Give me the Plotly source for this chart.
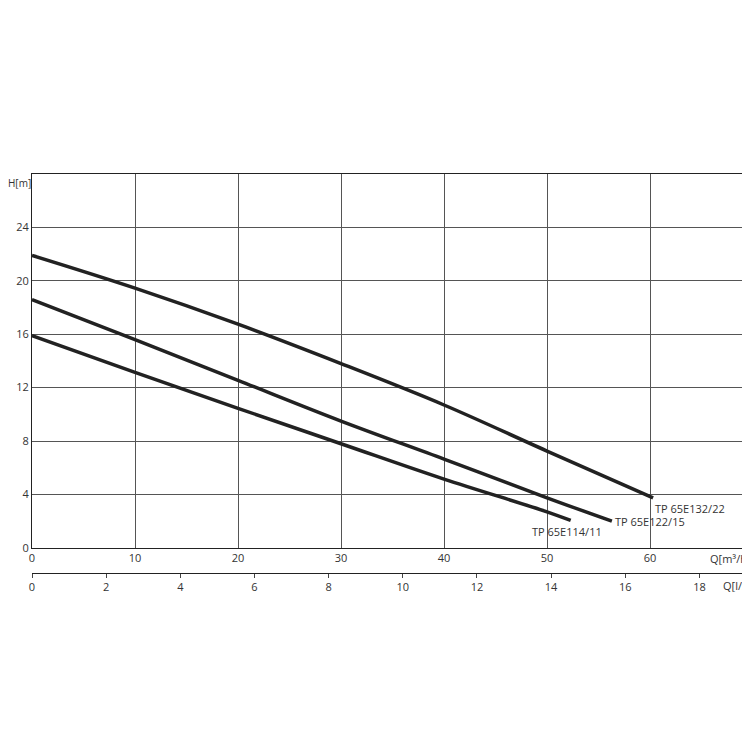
import plotly.graph_objects as go

q = [0, 10, 20, 30, 40, 50]
h132 = [21.9, 19.45, 16.75, 13.8, 10.7, 7.25]
q132_end, h132_end = 60.3, 3.75
h122 = [18.6, 15.6, 12.55, 9.5, 6.65, 3.75]
q122_end, h122_end = 56.3, 2.0
h114 = [15.9, 13.15, 10.45, 7.8, 5.15, 2.7]
q114_end, h114_end = 52.3, 2.05
names = ["TP 65E132/22", "TP 65E122/15", "TP 65E114/11"]

fig = go.Figure()
series = [(h132, q132_end, h132_end), (h122, q122_end, h122_end), (h114, q114_end, h114_end)]
for (hs, qe, he), n in zip(series, names):
    fig.add_trace(go.Scatter(x=q + [qe], y=hs + [he], mode="lines", line=dict(color="#222", width=3.5, shape="spline"), name=n, showlegend=False))
fig.add_trace(go.Scatter(x=[0, 70 / 3.6], y=[None, None], xaxis="x2", showlegend=False))

font = dict(family="Open Sans", size=11, color="#333")
fig.add_annotation(x=q132_end, y=h132_end, text=names[0], showarrow=False, xanchor="left", yanchor="top", yshift=-1, font=font)
fig.add_annotation(x=q122_end, y=h122_end, text=names[1], showarrow=False, xanchor="left", yanchor="middle", xshift=1, font=font)
fig.add_annotation(x=q114_end, y=h114_end, text=names[2], showarrow=False, xanchor="center", yanchor="top", xshift=-4, yshift=-2, font=font)
fig.add_annotation(x=1, xref="paper", y=0, yref="y", text="Q[m³/h]", showarrow=False, xanchor="right", yanchor="top", yshift=-1, font=font)
fig.add_annotation(x=1, xref="paper", y=0, yref="paper", text="Q[l/s]", showarrow=False, xanchor="right", yanchor="top", yshift=-3, font=font)
fig.add_annotation(x=0, xref="paper", y=28, yref="y", text="H[m]", showarrow=False, xanchor="right", yanchor="top", xshift=1, font=dict(family="Open Sans", size=10, color="#333"))

fig.update_layout(
    width=750, height=750, plot_bgcolor="white", paper_bgcolor="white",
    margin=dict(l=24, r=5, t=166, b=185, autoexpand=False), font=font,
    xaxis=dict(range=[0, 70], tickvals=[0, 10, 20, 30, 40, 50, 60], showgrid=True, gridcolor="#555", gridwidth=0.8,
               showline=True, linecolor="#222", mirror=True, zeroline=False, ticks="", anchor="y", automargin=False),
    yaxis=dict(range=[0, 28], tickvals=[0, 4, 8, 12, 16, 20, 24], showgrid=True, gridcolor="#555", gridwidth=0.8,
               showline=True, linecolor="#222", mirror=True, zeroline=False, ticks="", domain=[0.063, 1], automargin=False),
    xaxis2=dict(range=[0, 70 / 3.6], tickvals=list(range(0, 19, 2)), anchor="free", position=0, overlaying="x",
                side="bottom", showline=True, linecolor="#222", showgrid=False, zeroline=False, ticks="outside", ticklen=4, automargin=False),
)
fig.write_html("out.html")
